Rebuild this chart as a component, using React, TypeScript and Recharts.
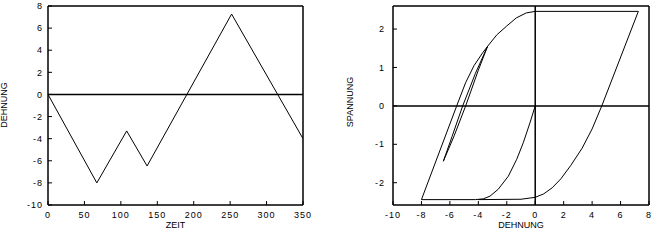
import { LineChart, Line, XAxis, YAxis, ReferenceLine, Label } from "recharts"

// left plot: strain history
const zeit = [0, 67, 108, 136, 252, 350]
const dehnungVerlauf = [0, -8.0, -3.3, -6.47, 7.27, -4]

const zeitTicks = [0, 50, 100, 150, 200, 250, 300, 350]
const dehnungTicksLinks = [-10, -8, -6, -4, -2, 0, 2, 4, 6, 8]

// right plot: stress-strain loop, one branch per array pair
const ast1Dehnung = [0, -0.37, -0.84, -1.3, -1.89, -2.6, -3.18, -3.65, -4.2, -8.0]
const ast1Spannung = [0, -0.44, -0.96, -1.39, -1.83, -2.17, -2.35, -2.42, -2.44, -2.44]

const ast2Dehnung = [-8.0, -5.52, -4.9, -4.3, -3.7, -3.35]
const ast2Spannung = [-2.44, 0, 0.6, 1.05, 1.38, 1.55]

const ast3Dehnung = [-3.35, -4.0, -4.89, -5.7, -6.46]
const ast3Spannung = [1.55, 0.93, 0, -0.78, -1.44]

const ast4Dehnung = [-6.46, -5.85, -5.1, -4.2, -3.35, -2.7, -2.0, -1.33, -0.63, 0, 7.25]
const ast4Spannung = [-1.44, -0.8, 0, 0.85, 1.55, 1.85, 2.08, 2.29, 2.42, 2.46, 2.46]

const ast5Dehnung = [7.25, 4.68, 4.0, 3.3, 2.5, 1.8, 1.2, 0.6, 0, -1.0, -4.0]
const ast5Spannung = [2.46, 0, -0.6, -1.1, -1.55, -1.9, -2.13, -2.29, -2.38, -2.43, -2.44]

const dehnungTicksRechts = [-10, -8, -6, -4, -2, 0, 2, 4, 6, 8]
const spannungTicks = [-2, -1, 0, 1, 2]

const zip = (xs: number[], ys: number[]) => xs.map((x, i) => ({ x, y: ys[i] }))

const FONT = "'Liberation Sans', Arial, Helvetica, sans-serif"
const tickStyle = { fontFamily: FONT, fontSize: 9, fill: "#000", letterSpacing: 1 }
const frame = { stroke: "#000", strokeWidth: 1.5 }
const tickLine = { stroke: "#000", strokeWidth: 1 }

const xTitle = (text: string) => (p: any) => {
  const vb = p.viewBox
  return (
    <text x={vb.x + vb.width / 2} y={vb.y + 22.5} textAnchor="middle" fontFamily={FONT} fontSize={9} fill="#000">
      {text}
    </text>
  )
}

const yTitle = (text: string, cx: number, cy: number) => () => (
  <text x={cx} y={cy} transform={`rotate(-90 ${cx} ${cy})`} textAnchor="middle" dominantBaseline="central" fontFamily={FONT} fontSize={9} fill="#000">
    {text}
  </text>
)

function Panel({ width, marginRight, yWidth, yTickMargin, xDomain, xTicks, yDomain, yTicks, xLabel, yLabel, zeroX, lines }: any) {
  return (
    <LineChart width={width} height={248} margin={{ top: 5, right: marginRight, bottom: 0, left: 0 }}>
      <XAxis xAxisId="b" type="number" dataKey="x" domain={xDomain} ticks={xTicks} allowDataOverflow height={43}
        tickSize={-4} tickMargin={11} tick={tickStyle} axisLine={frame} tickLine={tickLine} interval={0}>
        <Label content={xTitle(xLabel)} />
      </XAxis>
      <XAxis xAxisId="t" orientation="top" type="number" dataKey="x" domain={xDomain} ticks={xTicks} allowDataOverflow height={1}
        tickSize={-4} tick={false} axisLine={frame} tickLine={tickLine} interval={0} />
      <YAxis yAxisId="l" type="number" domain={yDomain} ticks={yTicks} allowDataOverflow width={yWidth}
        tickSize={-4} tickMargin={yTickMargin} tick={tickStyle} axisLine={frame} tickLine={tickLine} interval={0}>
        <Label content={yTitle(yLabel.text, yLabel.x, yLabel.y)} />
      </YAxis>
      <YAxis yAxisId="r" orientation="right" type="number" domain={yDomain} ticks={yTicks} allowDataOverflow width={1}
        tickSize={-4} tick={false} axisLine={frame} tickLine={tickLine} interval={0} />
      <ReferenceLine xAxisId="b" yAxisId="l" y={0} stroke="#000" strokeWidth={1.5} />
      {zeroX && <ReferenceLine xAxisId="b" yAxisId="l" x={0} stroke="#000" strokeWidth={1.5} />}
      {lines.map((d: any, i: number) => (
        <Line key={i} xAxisId="b" yAxisId="l" data={d} dataKey="y" type="linear" stroke="#000" strokeWidth={1}
          dot={false} activeDot={false} isAnimationActive={false} />
      ))}
    </LineChart>
  )
}

export default function App() {
  const links = [zip(zeit, dehnungVerlauf)]
  const rechts = [
    zip(ast1Dehnung, ast1Spannung),
    zip(ast2Dehnung, ast2Spannung),
    zip(ast3Dehnung, ast3Spannung),
    zip(ast4Dehnung, ast4Spannung),
    zip(ast5Dehnung, ast5Spannung),
  ]
  return (
    <div style={{ position: "absolute", left: 0, top: 0, width: 652, height: 248, background: "#fff", display: "flex" }}>
      <Panel width={330} marginRight={26} yWidth={48} yTickMargin={9}
        xDomain={[0, 350]} xTicks={zeitTicks} yDomain={[-10, 8]} yTicks={dehnungTicksLinks}
        xLabel="ZEIT" yLabel={{ text: "DEHNUNG", x: 4, y: 105 }} zeroX={false} lines={links} />
      <Panel width={322} marginRight={2} yWidth={63} yTickMargin={12}
        xDomain={[-10, 8]} xTicks={dehnungTicksRechts} yDomain={[-2.58, 2.6]} yTicks={spannungTicks}
        xLabel="DEHNUNG" yLabel={{ text: "SPANNUNG", x: 20, y: 102 }} zeroX={true} lines={rechts} />
    </div>
  )
}
